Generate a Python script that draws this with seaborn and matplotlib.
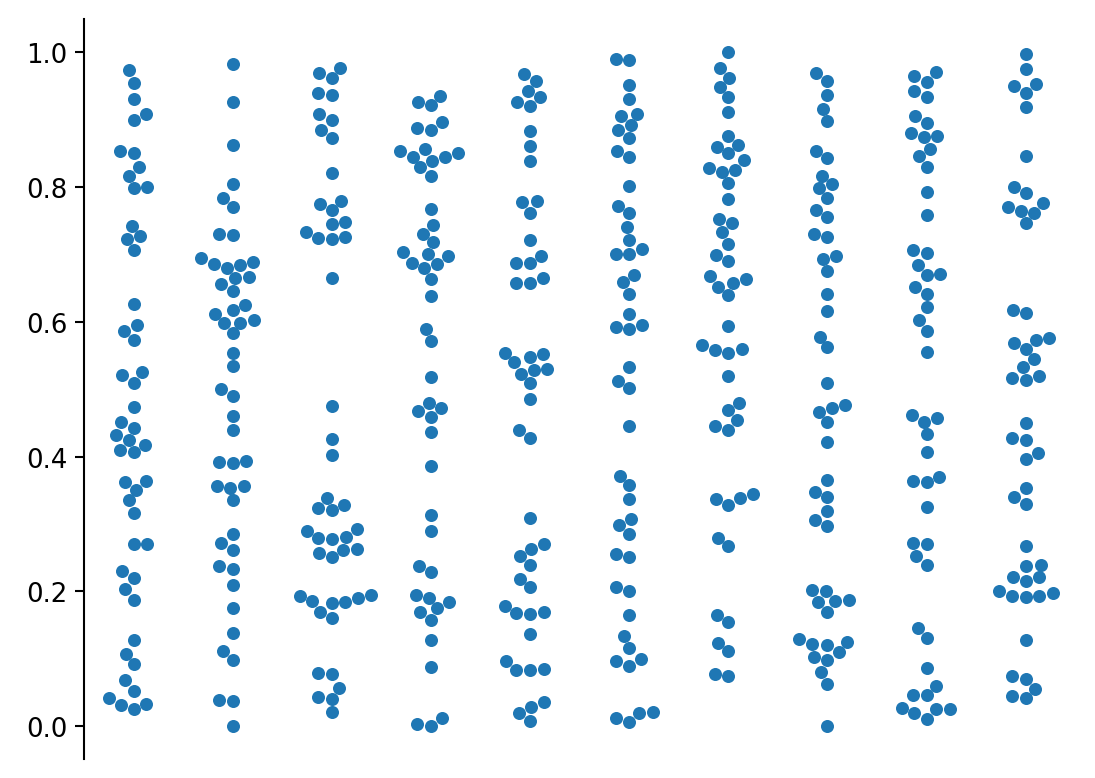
import pandas as pd
import matplotlib.pyplot as plt
import seaborn as sns

# values, one list per column
col_1 = [0.973, 0.955, 0.930, 0.900, 0.908, 0.853, 0.850, 0.830, 0.817, 0.799, 0.800,
         0.742, 0.723, 0.727, 0.706, 0.627, 0.595, 0.587, 0.573, 0.521, 0.525, 0.510,
         0.473, 0.452, 0.443, 0.432, 0.425, 0.417, 0.410, 0.407, 0.364, 0.362, 0.351,
         0.335, 0.317, 0.270, 0.271, 0.230, 0.220, 0.203, 0.188, 0.128, 0.108, 0.092,
         0.068, 0.053, 0.042, 0.033, 0.025, 0.032]
col_2 = [0.982, 0.926, 0.863, 0.805, 0.784, 0.771, 0.731, 0.729, 0.695, 0.686, 0.680,
         0.684, 0.689, 0.665, 0.667, 0.656, 0.646, 0.625, 0.612, 0.617, 0.598, 0.599,
         0.603, 0.583, 0.554, 0.534, 0.501, 0.490, 0.460, 0.439, 0.391, 0.392, 0.393,
         0.356, 0.354, 0.357, 0.335, 0.286, 0.272, 0.262, 0.238, 0.234, 0.210, 0.176,
         0.138, 0.112, 0.098, 0.039, 0.037, 0.001]
col_3 = [0.976, 0.969, 0.961, 0.939, 0.936, 0.908, 0.900, 0.885, 0.873, 0.821, 0.775,
         0.766, 0.780, 0.748, 0.745, 0.734, 0.725, 0.723, 0.726, 0.665, 0.475, 0.426,
         0.402, 0.339, 0.324, 0.321, 0.329, 0.290, 0.280, 0.278, 0.281, 0.292, 0.257,
         0.251, 0.262, 0.263, 0.195, 0.185, 0.170, 0.183, 0.161, 0.186, 0.191, 0.194,
         0.078, 0.079, 0.057, 0.041, 0.043, 0.021]
col_4 = [0.926, 0.921, 0.935, 0.887, 0.885, 0.897, 0.853, 0.845, 0.856, 0.839, 0.844,
         0.850, 0.829, 0.817, 0.767, 0.744, 0.731, 0.718, 0.700, 0.703, 0.688, 0.680,
         0.686, 0.698, 0.663, 0.638, 0.589, 0.571, 0.518, 0.467, 0.472, 0.480, 0.459,
         0.437, 0.386, 0.314, 0.290, 0.238, 0.229, 0.190, 0.185, 0.195, 0.170, 0.175,
         0.158, 0.128, 0.088, 0.003, 0.001, 0.012]
col_5 = [0.968, 0.958, 0.942, 0.926, 0.933, 0.920, 0.883, 0.861, 0.838, 0.779, 0.778,
         0.762, 0.722, 0.688, 0.687, 0.698, 0.658, 0.657, 0.665, 0.554, 0.540, 0.548,
         0.553, 0.523, 0.528, 0.530, 0.509, 0.486, 0.440, 0.428, 0.309, 0.270, 0.263,
         0.252, 0.239, 0.219, 0.206, 0.178, 0.168, 0.167, 0.170, 0.137, 0.097, 0.085,
         0.083, 0.084, 0.020, 0.029, 0.036, 0.008]
col_6 = [0.990, 0.989, 0.951, 0.931, 0.905, 0.892, 0.909, 0.884, 0.872, 0.854, 0.845,
         0.801, 0.772, 0.762, 0.741, 0.722, 0.701, 0.700, 0.708, 0.670, 0.659, 0.642,
         0.612, 0.593, 0.590, 0.595, 0.533, 0.512, 0.502, 0.445, 0.372, 0.358, 0.337,
         0.308, 0.299, 0.286, 0.256, 0.251, 0.206, 0.201, 0.165, 0.134, 0.116, 0.097,
         0.090, 0.100, 0.012, 0.007, 0.020, 0.021]
col_7 = [1.000, 0.976, 0.962, 0.948, 0.933, 0.912, 0.876, 0.863, 0.860, 0.850, 0.840,
         0.828, 0.823, 0.825, 0.806, 0.782, 0.753, 0.746, 0.733, 0.716, 0.699, 0.690,
         0.668, 0.652, 0.658, 0.664, 0.640, 0.594, 0.565, 0.559, 0.554, 0.558, 0.519,
         0.480, 0.469, 0.455, 0.445, 0.440, 0.337, 0.328, 0.338, 0.344, 0.280, 0.268,
         0.165, 0.155, 0.124, 0.112, 0.078, 0.074]
col_8 = [0.969, 0.958, 0.937, 0.916, 0.898, 0.853, 0.843, 0.817, 0.804, 0.798, 0.783,
         0.766, 0.756, 0.730, 0.726, 0.698, 0.693, 0.675, 0.641, 0.616, 0.578, 0.562,
         0.510, 0.466, 0.472, 0.477, 0.451, 0.422, 0.365, 0.340, 0.347, 0.320, 0.306,
         0.297, 0.200, 0.202, 0.184, 0.186, 0.187, 0.170, 0.130, 0.122, 0.120, 0.110,
         0.125, 0.103, 0.099, 0.080, 0.063, 0.001]
col_9 = [0.964, 0.956, 0.970, 0.942, 0.933, 0.906, 0.895, 0.880, 0.874, 0.875, 0.857,
         0.846, 0.830, 0.793, 0.758, 0.706, 0.702, 0.685, 0.670, 0.671, 0.652, 0.642,
         0.622, 0.603, 0.587, 0.556, 0.462, 0.452, 0.457, 0.433, 0.407, 0.363, 0.364,
         0.370, 0.326, 0.272, 0.271, 0.252, 0.239, 0.146, 0.131, 0.087, 0.060, 0.046,
         0.047, 0.026, 0.019, 0.011, 0.027, 0.025]
col_10 = [0.998, 0.975, 0.953, 0.940, 0.950, 0.918, 0.846, 0.800, 0.791, 0.771, 0.765,
          0.762, 0.777, 0.747, 0.618, 0.613, 0.569, 0.560, 0.573, 0.576, 0.545, 0.533,
          0.516, 0.514, 0.519, 0.450, 0.427, 0.425, 0.405, 0.397, 0.354, 0.340, 0.330,
          0.267, 0.240, 0.238, 0.221, 0.215, 0.222, 0.198, 0.193, 0.192, 0.194, 0.200,
          0.128, 0.074, 0.070, 0.056, 0.045, 0.042]

columns = [col_1, col_2, col_3, col_4, col_5, col_6, col_7, col_8, col_9, col_10]
groups = [f"g{i}" for i in range(1, 11)]

df = pd.DataFrame({
    "group": [g for g, vals in zip(groups, columns) for _ in vals],
    "value": [v for vals in columns for v in vals],
})

# reference looks like a ~1.25x scaled default figure
scale = 1.25
plt.rcParams.update({
    "font.size": 10 * scale,
    "axes.linewidth": 0.8 * scale,
    "ytick.major.size": 3.5 * scale,
    "ytick.major.width": 0.8 * scale,
})

fig, ax = plt.subplots(figsize=(7.3, 5.193), dpi=150)
sns.swarmplot(data=df, x="group", y="value", order=groups, color="#1f77b4",
              size=5 * scale, ax=ax)
ax.set_xticks([])
ax.set_xlabel("")
ax.set_ylabel("")
sns.despine(ax=ax, bottom=True)
fig.subplots_adjust(left=0.0767, right=0.982, top=0.975, bottom=0.024)
fig.savefig("out.png", dpi=150)
